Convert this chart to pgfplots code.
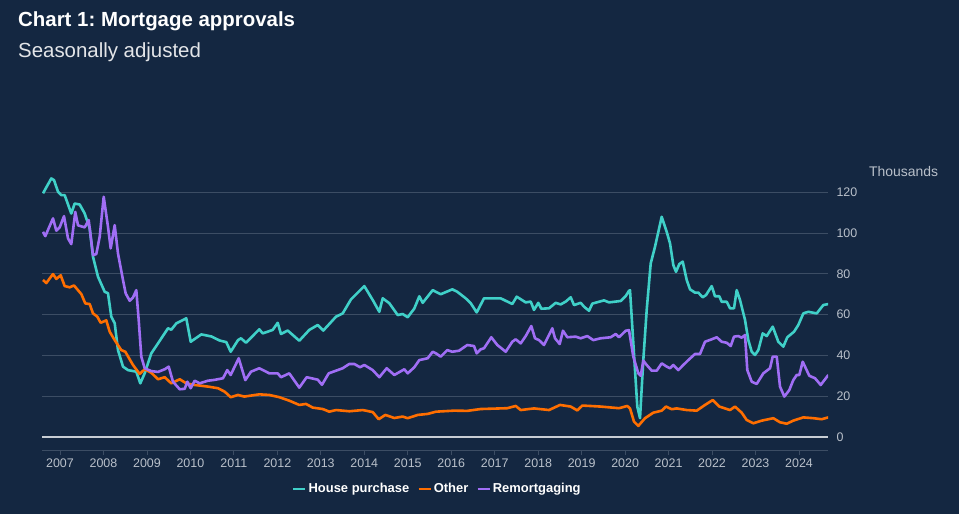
\documentclass[border=0pt]{standalone}
\usepackage{fontspec}
\setmainfont{Liberation Sans}
\usepackage{pgfplots}
\pgfplotsset{compat=1.18}
\frenchspacing

\definecolor{bgc}{RGB}{20,39,65}
\definecolor{housec}{RGB}{64,208,200}
\definecolor{otherc}{RGB}{255,110,0}
\definecolor{remortc}{RGB}{160,110,245}
\definecolor{gridc}{RGB}{60,77,100}
\definecolor{zeroc}{RGB}{200,205,212}
\definecolor{tickc}{RGB}{185,192,202}

\begin{document}
\begin{tikzpicture}
\fill[bgc] (0bp,0bp) rectangle (959bp,514bp);
\node[anchor=base west, inner sep=0, text=white, font=\bfseries\fontsize{20.5}{24}\selectfont] at (18bp,487bp) {Chart 1: Mortgage approvals};
\node[anchor=base west, inner sep=0, text=white!88!bgc, font=\fontsize{20.5}{24}\selectfont] at (18bp,456bp) {Seasonally adjusted};
\node[anchor=base west, inner sep=0, text=tickc, font=\fontsize{14}{16}\selectfont] at (869bp,337bp) {Thousands};

\begin{axis}[
    at={(42bp,64bp)}, anchor=south west,
    width=786bp, height=274bp, scale only axis,
    xmin=2006.586, xmax=2024.667, ymin=-6.4, ymax=128,
    % positions are read in picture pixels, turned into years here
    x filter/.expression={2007+(x-60)/43.47},
    axis x line*=bottom, axis y line*=right,
    x axis line style={draw=gridc, line width=1bp, -},
    y axis line style={draw=none},
    xtick={2007,2008,...,2024},
    ytick={20,40,...,120},
    extra y ticks={0},
    extra y tick style={grid style={draw=zeroc, line width=2.2bp}},
    ymajorgrids, grid style={draw=gridc, line width=0.8bp},
    tick align=outside, major tick length=5bp,
    x tick style={draw=gridc, line width=0.8bp},
    y tick style={draw=none},
    tick label style={font=\fontsize{12.5}{14}\selectfont, text=tickc},
    yticklabel style={anchor=west},
    /pgf/number format/1000 sep={},
    /pgf/number format/assume math mode=true,
    every axis plot/.append style={line width=2.6bp, line join=round, no marks},
    legend style={at={(0.503,-0.142)}, anchor=center, draw=none, fill=none,
        legend columns=-1, text=white,
        font=\bfseries\fontsize{13}{15}\selectfont,
        /tikz/every even column/.append style={column sep=6bp}},
    legend image code/.code={\draw[#1, line width=2.5bp] (0bp,0bp) -- (12bp,0bp);},
]
\addplot[housec] coordinates {
(43,119.5)(51.3,126.8)(54,126)(58,120.3)(61.3,118.6)(64.7,118.6)(71.3,109.6)(74.7,114.5)(79.7,114)(84.7,109.6)
(89.7,102.3)(93,88.4)(98,78.6)(104.7,71.2)(108,70.5)(111.3,59)(114.7,55.8)(118,42.6)(123,34.5)(128,32.8)
(136.3,32)(140.3,26.3)(144.7,31.2)(151.3,41)(158,45.9)(168,53.3)(171.3,52.6)(176.3,55.7)(186.3,58.2)(190.7,46.7)
(201.3,50.3)(211.3,49.3)(219.7,47.3)(226.3,46.5)(230.7,41.8)(238,47.5)(241,48.4)(246,46.2)(259.3,52.8)(262.7,50.8)
(272.7,52.5)(277.7,56)(281,50.5)(287.7,52.2)(299.3,47.2)(309.3,52.5)(317.7,54.9)(323.3,52.2)(336,59)(342.7,60.6)
(351,67.5)(364.3,74)(372.7,67.2)(379.3,61.4)(382.7,68)(389.3,65.6)(397.7,59.8)(402.7,60.3)(407.7,58.7)(414.3,63)
(419.3,69)(422.7,65.8)(432.7,72)(440.7,70)(452.3,72.4)(457.3,71.2)(465.7,68)(470.7,65.6)(476.7,61.1)(484,68)
(500.7,68)(512.3,65.2)(516.7,68.8)(525.7,66)(530.7,66.4)(534,62.3)(538.3,65.8)(541.3,62.9)(549,63.1)(555.7,65.8)
(560.7,65)(565.7,66.4)(570.7,68.5)(574,64.7)(580.7,65.8)(584,63.9)(589,61.9)(592.3,65.4)(604,67)(609,66)
(620.7,66.7)(625.7,69.1)(629,71.7)(630,72)(635,32.8)(637.3,14.9)(640,9.2)(643.3,37.7)(646.7,62.3)(650.7,85.1)
(655,93.3)(661.7,108)(666.7,100.6)(670,95)(673.3,84.3)(676,81)(679.3,84.8)(682.7,86)(686.7,77)(690,72.4)
(695,70.8)(698.3,70.8)(702.7,68.5)(706,69.6)(711.7,74)(715,69)(719.3,69)(721.7,66.3)(726.7,66.3)(730,63.1)
(734,63.1)(736.7,72)(740,67.2)(745,57.4)(748.3,47.5)(751.7,41.8)(755,40.2)(758.3,42.6)(762.7,50.8)(766.7,49.5)
(772.7,54.1)(778.3,46.7)(783.3,44.3)(787.3,48.9)(794,51.6)(798.3,54.9)(803.3,60.6)(808.3,61.4)(816.7,60.6)(823.3,64.7)
(828.3,65.2)
};
\addlegendentry{House purchase}
\addplot[otherc] coordinates {
(43,77)(46.3,75.5)(53,79.9)(56.3,77.5)(60.7,79.3)(64.7,74)(69.7,73.4)(74,74.3)(81.3,70.1)(85.3,65.5)
(89.7,65.2)(93,60.6)(97.3,59)(100.7,56)(106.3,57.2)(109.7,51.6)(114.7,47.5)(121.3,42.6)(125.3,41.8)(133,35.3)
(139.7,30.9)(144.7,33.2)(151.3,31.5)(158,28.3)(164.7,29.3)(171.3,26.3)(179.7,28.3)(186.3,26.3)(194.7,25.5)(208,24.7)
(218,23.9)(224.7,22.2)(230.7,19.5)(238,20.6)(244.3,19.8)(259.3,20.9)(269.3,20.6)(279.3,19.5)(289.3,17.8)(299.3,15.7)
(306,16.2)(312.7,14.4)(322.7,13.7)(329.3,12.4)(336,13.2)(349.3,12.6)(362.7,13.2)(372.7,12.2)(378.7,8.7)(385.3,10.8)
(394.3,9.3)(402.7,10)(407.7,9.2)(417.7,10.8)(427.7,11.3)(436,12.4)(454,12.9)(467.3,12.8)(480.7,13.7)(507.3,14.1)
(515.7,15.2)(520.7,13.2)(534,14)(549,13.2)(560,15.7)(570.7,14.9)(577.3,13)(582.3,15.4)(600.7,14.9)(619,14.1)
(627.3,15.2)(630,14)(634,7.5)(638.3,5.4)(645,9.2)(653.3,11.9)(661.7,12.9)(666,14.9)(671.7,13.6)(676.7,14)
(686.7,13.2)(696.7,12.9)(705,15.7)(712.7,18.1)(719.3,14.9)(730,13.2)(735,14.9)(741.7,11.9)(746.7,8.3)(753.3,6.7)
(761.7,8)(773.3,9.2)(780,7.2)(786.7,6.5)(793.3,8)(803.3,9.6)(813.3,9.2)(821.7,8.7)(828.3,9.6)
};
\addlegendentry{Other}
\addplot[remortc] coordinates {
(43,100.6)(45.3,98.5)(53,107.2)(56.3,101.2)(59.7,102.8)(64,108.3)(68,97.4)(71.3,94.6)(75.3,110.4)(78,103.8)
(84.7,102.8)(88.7,106.4)(93,89.2)(96.3,89.7)(99.7,98.2)(103.7,117.8)(108,103.1)(110.7,92.5)(114.7,103.9)(118,90)
(123,77)(125.7,70.4)(129.7,66.8)(133,68.4)(136.3,72)(138.7,57.4)(141.3,39.4)(144.7,33.7)(151.3,32.3)(158,31.9)
(164.7,33.2)(168.7,34.5)(173,27.1)(179.7,23.4)(184.7,23.6)(187.3,27.1)(190.7,23.9)(194.7,27.6)(199.7,26.3)(208,27.6)
(214.7,28)(223,28.8)(227.3,32.8)(230.7,30.4)(238.7,38.6)(245.3,27.9)(251,32)(259.3,33.7)(269.3,31.2)(277.7,31.2)
(281,29.3)(289.3,31.2)(299.3,24.2)(306.7,29.3)(317.7,28.1)(322,25.6)(328.7,31.2)(336,32.5)(342.7,33.7)(349.3,35.8)
(354.3,35.8)(360,34.2)(364.3,35.3)(372.7,32.8)(379.3,29.3)(386.7,33.7)(394.3,30.4)(404.3,33.2)(407.7,31.2)(414.3,34.2)
(419.3,37.7)(427.7,38.6)(432.7,41.8)(436,41)(440.7,39.4)(447.3,42.6)(452.3,41.8)(459,42.3)(467.3,45.1)(474,44.6)
(476.7,41)(480.7,43)(484,43.5)(491.3,48.9)(497.3,45.1)(505.7,41.8)(512.3,46.7)(515.7,47.9)(520.7,45.9)(525.7,49.5)
(531.3,54.4)(535,48.4)(539,47.5)(544,45.1)(552.3,53.3)(555,48.4)(559.7,45.6)(563,52.1)(567.3,48.9)(575.7,49.2)
(580.7,48.4)(587.3,49.5)(593.3,47.5)(600.7,48.4)(610.7,48.9)(615.7,50.5)(619,48.9)(625.7,52.1)(629,52.4)(633.3,39.4)
(638.3,31.2)(640.7,30)(643.3,37.4)(646.7,35.3)(651.7,32.5)(656.7,32.5)(661.7,36.1)(666.7,34.5)(670,33.7)(673.3,35.3)
(678.3,32.8)(683.3,35.3)(688.3,37.7)(695,40.7)(700,40.7)(705,46.7)(711.7,47.9)(716.7,48.9)(721.7,46.7)(726.7,46.2)
(730.7,44.6)(734,49.2)(738.3,49.5)(741.7,48.7)(745,50)(747.3,32.8)(751.7,27.1)(756.7,26)(763.3,31.2)(770,33.7)
(772.7,39.4)(776.7,39.4)(780,24.7)(784.3,19.8)(789.3,23)(793.3,27.9)(796.7,30.4)(799.3,30.4)(802.7,36.9)(809.3,30)
(815,28.8)(820.7,25.5)(828.3,30.4)
};
\addlegendentry{Remortgaging}
\end{axis}
\end{tikzpicture}
\end{document}
